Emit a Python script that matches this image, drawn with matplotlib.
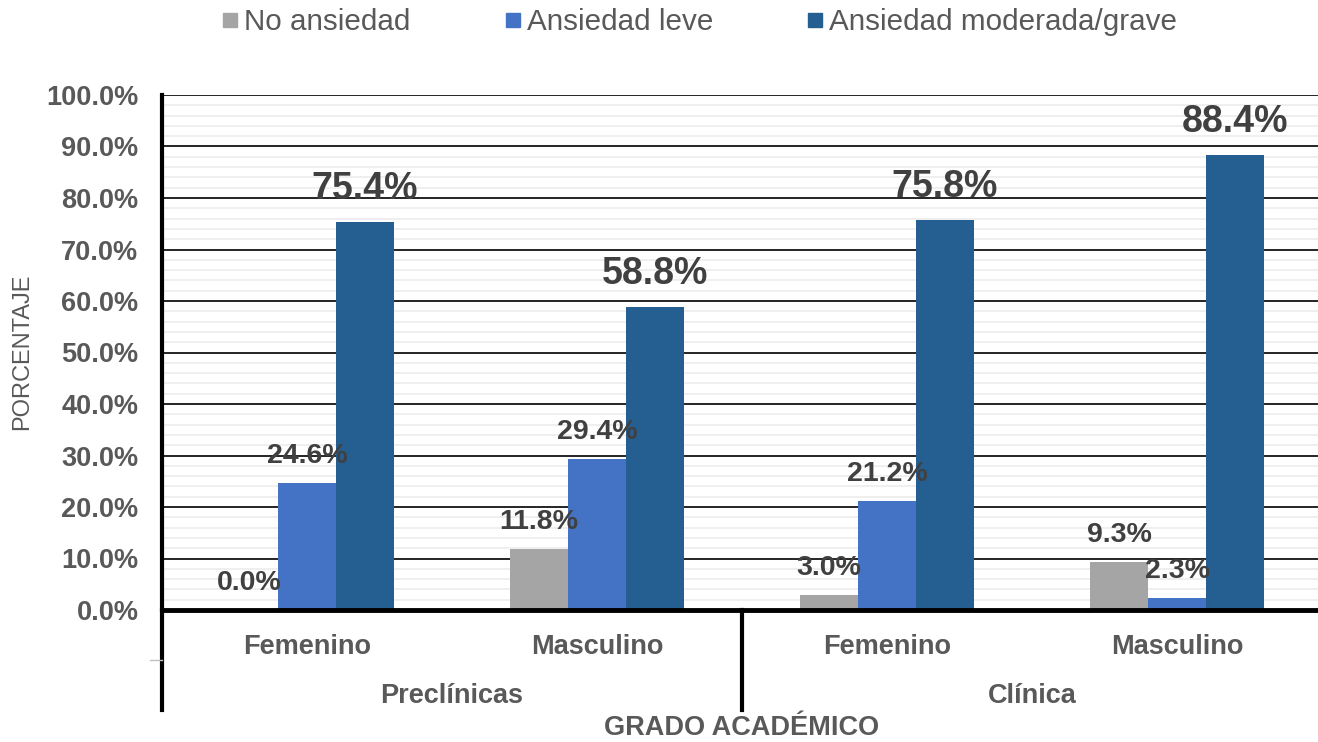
import matplotlib
matplotlib.use("Agg")
import matplotlib.pyplot as plt
import matplotlib.transforms as mtransforms
from matplotlib.lines import Line2D
from matplotlib.ticker import MultipleLocator, FuncFormatter
import numpy as np

plt.rcParams['font.family'] = ['Liberation Sans', 'DejaVu Sans']

categories = ["Femenino", "Masculino", "Femenino", "Masculino"]
groups = ["Preclínicas", "Clínica"]
series_names = ["No ansiedad", "Ansiedad leve", "Ansiedad moderada/grave"]
no_ansiedad = [0.0, 11.8, 3.0, 9.3]
ansiedad_leve = [24.6, 29.4, 21.2, 2.3]
ansiedad_mod_grave = [75.4, 58.8, 75.8, 88.4]
colors = ["#A5A5A5", "#4472C4", "#255E91"]

W, H = 1318, 742
fig = plt.figure(figsize=(W / 100, H / 100), dpi=100)
ax = fig.add_axes([162 / W, 1 - 610 / H, (W - 162) / W, 515 / H])

x = np.arange(len(categories))
bw = 0.2
series = [no_ansiedad, ansiedad_leve, ansiedad_mod_grave]
for i, (vals, col, name) in enumerate(zip(series, colors, series_names)):
    xs = x + (i - 1) * bw
    ax.bar(xs, vals, width=bw, color=col, label=name, zorder=3)
    for xi, v in zip(xs, vals):
        if i == 2:
            ax.annotate(f"{v:.1f}%", (xi, v), xytext=(0, 33), textcoords='offset pixels',
                        ha='center', va='center', fontsize=27, fontweight='bold',
                        color='#404040', zorder=5)
        else:
            ax.annotate(f"{v:.1f}%", (xi, v), xytext=(0, 27), textcoords='offset pixels',
                        ha='center', va='center', fontsize=20.5, fontweight='bold',
                        color='#404040', zorder=5)

ax.set_xlim(-0.5, -0.5 + (W - 162) / 290)
ax.set_ylim(0, 100)
ax.yaxis.set_major_locator(MultipleLocator(10))
ax.yaxis.set_minor_locator(MultipleLocator(2))
ax.yaxis.set_major_formatter(FuncFormatter(lambda v, p: f"{v:.1f}%"))
ax.grid(axis='y', which='minor', color='#EEEEEE', linewidth=1.3, zorder=0)
ax.grid(axis='y', which='major', color='black', linewidth=1.2, zorder=1)
ax.tick_params(axis='y', which='both', length=0, pad=17, labelsize=19.5,
               labelcolor='#595959')
for lab in ax.get_yticklabels():
    lab.set_fontweight('bold')

ax.set_xticks(x)
ax.set_xticklabels(categories, fontsize=19.5, fontweight='bold', color='#595959')
ax.tick_params(axis='x', length=0, pad=17)

for s in ['top', 'right']:
    ax.spines[s].set_visible(False)
ax.spines['left'].set_linewidth(3)
ax.spines['bottom'].set_linewidth(3.5)
ax.spines['left'].set_zorder(6)
ax.spines['bottom'].set_zorder(6)

trans = mtransforms.blended_transform_factory(ax.transData, ax.transAxes)
ybot = (610 - 710) / 515
ax.add_line(Line2D([-0.5, -0.5], [0, ybot], transform=trans, color='black',
                   linewidth=3, clip_on=False))
ax.add_line(Line2D([1.5, 1.5], [0, ybot], transform=trans, color='black',
                   linewidth=3, clip_on=False))
ax.add_line(Line2D([-0.5 - 12 / 290, -0.5], [(610 - 660) / 515] * 2, transform=trans,
                   color='#BFBFBF', linewidth=1, clip_on=False))

for gi, g in enumerate(groups):
    ax.text(gi * 2 + 0.5, (610 - 703) / 515, g, transform=trans, ha='center',
            va='baseline', fontsize=19.5, fontweight='bold', color='#595959')

fig.text(742 / W, 1 - 741 / H, "GRADO ACADÉMICO", ha='center', va='bottom',
         fontsize=19.5, fontweight='bold', color='#595959')
fig.text(22 / W, 1 - 352 / H, "PORCENTAJE", rotation=90, ha='center', va='center',
         fontsize=17, color='#595959')

handles = [Line2D([], [], marker='s', linestyle='none', markersize=10.5,
                  markerfacecolor=c, markeredgecolor=c) for c in colors]
leg = fig.legend(handles, series_names, loc='center', bbox_to_anchor=(700 / W, 1 - 22 / H),
                 ncol=3, frameon=False, fontsize=21.3, handlelength=0.5,
                 handletextpad=0.22, columnspacing=3.2, borderaxespad=0)
for t in leg.get_texts():
    t.set_color('#595959')

fig.savefig("out.png", dpi=100)
